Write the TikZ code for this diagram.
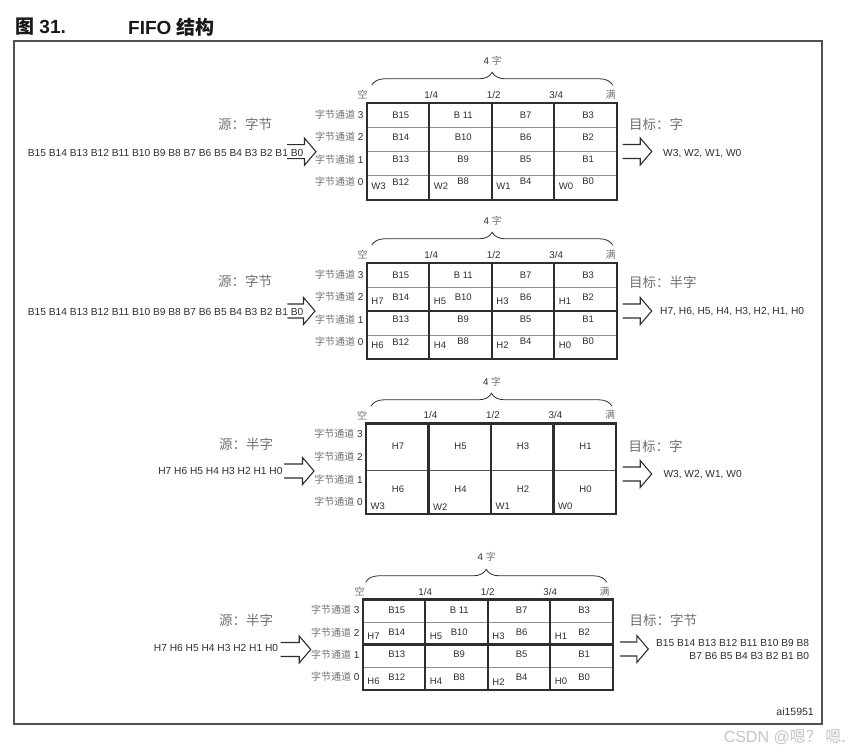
\documentclass[tikz,border=0pt]{standalone}
\usepackage{fontspec}
\setmainfont{Liberation Sans}
\newfontfamily\cjk{Noto Sans CJK SC}
\usetikzlibrary{calc, decorations.pathreplacing}

\definecolor{ink}{HTML}{2E2E2E}
\definecolor{cjkgray}{HTML}{707070}
\definecolor{hairline}{HTML}{8F8F8F}
\definecolor{midline}{HTML}{555555}
\definecolor{framegray}{HTML}{505050}
\definecolor{markgray}{HTML}{C4C4C4}

\begin{document}
\begin{tikzpicture}[
        x=1pt, y=1pt,
        cell/.style={
            inner sep=0pt,
            text=ink,
            font=\fontsize{9.5}{11}\selectfont
        },
        lane/.style={
            anchor=east,
            inner sep=0pt,
            text=ink,
            font=\fontsize{10}{11}\selectfont
        },
        level/.style={
            inner sep=0pt,
            text=ink,
            font=\fontsize{9.8}{11}\selectfont
        },
        edge/.style={
            inner sep=0pt,
            text=cjkgray,
            font=\cjk\fontsize{10}{12}\selectfont
        },
        stream/.style={
            inner sep=0pt,
            text=ink,
            align=right,
            font=\fontsize{10.2}{13.3}\selectfont
        },
        side/.style={
            inner sep=0pt,
            text=cjkgray,
            font=\cjk\fontsize{13.5}{15}\selectfont
        },
        title/.style={
            anchor=west,
            inner sep=0pt,
            text=black!90,
            font=\bfseries\fontsize{19}{22}\selectfont
        },
        outer/.style={line width=2.4pt, draw=ink, line join=miter},
        divider/.style={line width=2.4pt, draw=ink},
        lanesep/.style={line width=0.9pt, draw=hairline},
        halfsep/.style={line width=1pt, draw=midline},
        brace/.style={decorate, decoration={brace, amplitude=13pt}, draw=ink, line width=0.8pt},
        hollow/.style={
            draw=ink,
            line width=1.1pt,
            line join=miter,
            to path={
                ($(\tikztostart)+(0,7)$) -- ($(\tikztotarget)+(-11.5,7)$)
                -- ($(\tikztotarget)+(-11.5,13.5)$) -- (\tikztotarget)
                -- ($(\tikztotarget)+(-11.5,-13.5)$) -- ($(\tikztotarget)+(-11.5,-7)$)
                -- ($(\tikztostart)+(0,-7)$)
            }
        }
    ]

    \useasboundingbox (0,0) rectangle (863,-754);

    % Caption and frame
    \node[title] (fignum) at (15,-27) {{\cjk 图} 31.};
    \node[title] (figname) at (128,-27) {FIFO {\cjk 结构}};
    \draw[line width=1.5pt, draw=framegray] (14,-41) rectangle (822,-724);

    % FIFO 1: byte in, word out
    \begin{scope}[shift={(366.7,-103.3)}]
        \node[side] (src1) at (-121.7,-20.7) {源：字节};
        \node[stream, anchor=east] (in1) at (-63.2,-49.4) {B15 B14 B13 B12 B11 B10 B9 B8 B7 B6 B5 B4 B3 B2 B1 B0};
        \coordinate (tail1) at (-79.7,-48.4);
        \coordinate (tip1) at (-50.7,-48.4);
        \draw[hollow] (tail1) to (tip1);

        \coordinate (bl1) at (5,18);
        \coordinate (br1) at (246,18);
        \draw[brace] (bl1) -- (br1);
        \node[level] (size1) at (126,43) {4 {\cjk\color{cjkgray}字}};
        \node[edge] (empty1) at (-4,8.5) {空};
        \foreach \i/\f in {1/{1/4},2/{1/2},3/{3/4}}
            \node[level] (q1-\i) at (62.5*\i+2,8.5) {\f};
        \node[edge] (full1) at (244,8.5) {满};

        \foreach \r in {1,2,3}
            \draw[lanesep] (0,-24.2*\r) -- (250,-24.2*\r);
        \foreach \c in {1,2,3}
            \draw[divider] (62.5*\c,0) -- (62.5*\c,-96.7);
        \draw[outer] (0,0) rectangle (250,-96.7);

        \foreach \k/\n in {0/3,1/2,2/1,3/0}
            \node[lane] (lane1-\n) at (-3,-11.5-22.3*\k) {{\cjk\color{cjkgray}字节通道} \n};
        \foreach \c in {0,...,3} {
            \foreach \k in {0,...,3} {
                \pgfmathtruncatemacro{\byte}{15-4*\c-\k}
                \node[cell] (b1-\c-\k) at (62.5*\c+34,-11.5-22.3*\k) {B\ifnum\byte=11\ \fi\byte};
            }
            \pgfmathtruncatemacro{\word}{3-\c}
            \node[cell, anchor=west] (w1-\c) at (62.5*\c+4.5,-83) {W\word};
        }

        \node[side, anchor=west] (dst1) at (262.3,-21) {目标：字};
        \coordinate (tail1o) at (256,-48.2);
        \coordinate (tip1o) at (285,-48.2);
        \draw[hollow] (tail1o) to (tip1o);
        \node[stream, anchor=west] (out1) at (296.3,-50) {W3, W2, W1, W0};
    \end{scope}

    % FIFO 2: byte in, half-word out
    \begin{scope}[shift={(366.7,-263.3)}]
        \node[side] (src2) at (-121.7,-18.4) {源：字节};
        \node[stream, anchor=east] (in2) at (-63.2,-48.4) {B15 B14 B13 B12 B11 B10 B9 B8 B7 B6 B5 B4 B3 B2 B1 B0};
        \coordinate (tail2) at (-79.4,-47.7);
        \coordinate (tip2) at (-51.7,-47.7);
        \draw[hollow] (tail2) to (tip2);

        \coordinate (bl2) at (5,18);
        \coordinate (br2) at (246,18);
        \draw[brace] (bl2) -- (br2);
        \node[level] (size2) at (126,43) {4 {\cjk\color{cjkgray}字}};
        \node[edge] (empty2) at (-4,8.5) {空};
        \foreach \i/\f in {1/{1/4},2/{1/2},3/{3/4}}
            \node[level] (q2-\i) at (62.5*\i+2,8.5) {\f};
        \node[edge] (full2) at (244,8.5) {满};

        \foreach \r in {1,3}
            \draw[lanesep] (0,-24*\r) -- (250,-24*\r);
        \draw[divider] (0,-48) -- (250,-48);
        \foreach \c in {1,2,3}
            \draw[divider] (62.5*\c,0) -- (62.5*\c,-95.7);
        \draw[outer] (0,0) rectangle (250,-95.7);

        \foreach \k/\n in {0/3,1/2,2/1,3/0}
            \node[lane] (lane2-\n) at (-3,-11.5-22.3*\k) {{\cjk\color{cjkgray}字节通道} \n};
        \foreach \c in {0,...,3} {
            \foreach \k in {0,...,3} {
                \pgfmathtruncatemacro{\byte}{15-4*\c-\k}
                \node[cell] (b2-\c-\k) at (62.5*\c+34,-11.5-22.3*\k) {B\ifnum\byte=11\ \fi\byte};
            }
            \pgfmathtruncatemacro{\hi}{7-2*\c}
            \pgfmathtruncatemacro{\lo}{6-2*\c}
            \node[cell, anchor=west] (hh2-\c) at (62.5*\c+4.5,-38.4) {H\hi};
            \node[cell, anchor=west] (hl2-\c) at (62.5*\c+4.5,-81.7) {H\lo};
        }

        \node[side, anchor=west] (dst2) at (262.3,-18.7) {目标：半字};
        \coordinate (tail2o) at (256,-47.7);
        \coordinate (tip2o) at (285,-47.7);
        \draw[hollow] (tail2o) to (tip2o);
        \node[stream, anchor=west] (out2) at (293.3,-48.7) {H7, H6, H5, H4, H3, H2, H1, H0};
    \end{scope}

    % FIFO 3: half-word in, word out
    \begin{scope}[shift={(366,-423.3)}]
        \node[side] (src3) at (-120,-20.7) {源：半字};
        \node[stream, anchor=east] (in3) at (-83.3,-47.7) {H7 H6 H5 H4 H3 H2 H1 H0};
        \coordinate (tail3) at (-82,-47.7);
        \coordinate (tip3) at (-52,-47.7);
        \draw[hollow] (tail3) to (tip3);

        \coordinate (bl3) at (5,17);
        \coordinate (br3) at (246,17);
        \draw[brace] (bl3) -- (br3);
        \node[level] (size3) at (126,42) {4 {\cjk\color{cjkgray}字}};
        \node[edge] (empty3) at (-4,8.3) {空};
        \foreach \i/\f in {1/{1/4},2/{1/2},3/{3/4}}
            \node[level] (q3-\i) at (62.5*\i+2,8.3) {\f};
        \node[edge] (full3) at (244,8.3) {满};

        \draw[halfsep] (0,-46.7) -- (250,-46.7);
        \foreach \c in {1,2,3}
            \draw[divider] (62.5*\c,0) -- (62.5*\c,-90.7);
        \draw[outer] (0,0) rectangle (250,-90.7);

        \foreach \k/\n in {0/3,1/2,2/1,3/0}
            \node[lane] (lane3-\n) at (-3,-10.7-22.7*\k) {{\cjk\color{cjkgray}字节通道} \n};
        \foreach \c in {0,...,3} {
            \pgfmathtruncatemacro{\hi}{7-2*\c}
            \pgfmathtruncatemacro{\lo}{6-2*\c}
            \pgfmathtruncatemacro{\word}{3-\c}
            \node[cell] (hh3-\c) at (62.5*\c+32,-23.4) {H\hi};
            \node[cell] (hl3-\c) at (62.5*\c+32,-66) {H\lo};
            \node[cell, anchor=west] (w3-\c) at (62.5*\c+4.5,-83.4) {W\word};
        }

        \node[side, anchor=west] (dst3) at (262.3,-23.4) {目标：字};
        \coordinate (tail3o) at (256.7,-50.7);
        \coordinate (tip3o) at (285.7,-50.7);
        \draw[hollow] (tail3o) to (tip3o);
        \node[stream, anchor=west] (out3) at (297.3,-51) {W3, W2, W1, W0};
    \end{scope}

    % FIFO 4: half-word in, byte out
    \begin{scope}[shift={(362.7,-599.3)}]
        \node[side] (src4) at (-116.7,-20.7) {源：半字};
        \node[stream, anchor=east] (in4) at (-84.4,-49) {H7 H6 H5 H4 H3 H2 H1 H0};
        \coordinate (tail4) at (-82,-50.2);
        \coordinate (tip4) at (-52,-50.2);
        \draw[hollow] (tail4) to (tip4);

        \coordinate (bl4) at (3,17);
        \coordinate (br4) at (244,17);
        \draw[brace] (bl4) -- (br4);
        \node[level] (size4) at (124,42.6) {4 {\cjk\color{cjkgray}字}};
        \node[edge] (empty4) at (-3,7.6) {空};
        \foreach \i/\f in {1/{1/4},2/{1/2},3/{3/4}}
            \node[level] (q4-\i) at (62.5*\i,7.6) {\f};
        \node[edge] (full4) at (242,7.6) {满};

        \foreach \r in {1,3}
            \draw[lanesep] (0,-22.7*\r) -- (250,-22.7*\r);
        \draw[divider] (0,-45.2) -- (250,-45.2);
        \foreach \c in {1,2,3}
            \draw[divider] (62.5*\c,0) -- (62.5*\c,-90.7);
        \draw[outer] (0,0) rectangle (250,-90.7);

        \foreach \k/\n in {0/3,1/2,2/1,3/0}
            \node[lane] (lane4-\n) at (-3,-10.7-22.3*\k) {{\cjk\color{cjkgray}字节通道} \n};
        \foreach \c in {0,...,3} {
            \foreach \k in {0,...,3} {
                \pgfmathtruncatemacro{\byte}{15-4*\c-\k}
                \node[cell] (b4-\c-\k) at (62.5*\c+34,-10.7-22.3*\k) {B\ifnum\byte=11\ \fi\byte};
            }
            \pgfmathtruncatemacro{\hi}{7-2*\c}
            \pgfmathtruncatemacro{\lo}{6-2*\c}
            \node[cell, anchor=west] (hh4-\c) at (62.5*\c+4.5,-37.4) {H\hi};
            \node[cell, anchor=west] (hl4-\c) at (62.5*\c+4.5,-82.4) {H\lo};
        }

        \node[side, anchor=west] (dst4) at (266.6,-20.7) {目标：字节};
        \coordinate (tail4o) at (257.3,-49.7);
        \coordinate (tip4o) at (285.6,-49.7);
        \draw[hollow] (tail4o) to (tip4o);
        \node[stream, anchor=east] (out4) at (446.6,-50) {B15 B14 B13 B12 B11 B10 B9 B8\\B7 B6 B5 B4 B3 B2 B1 B0};
    \end{scope}

    % Figure code and watermark
    \node[anchor=east, inner sep=0pt, text=ink, font=\fontsize{10.5}{12}\selectfont] (code) at (814,-711.7) {ai15951};
    \node[anchor=east, inner sep=0pt, text=markgray, font=\fontsize{16}{18}\selectfont] (mark) at (846,-737) {CSDN @{\cjk 嗯？ 嗯.}};

\end{tikzpicture}
\end{document}
